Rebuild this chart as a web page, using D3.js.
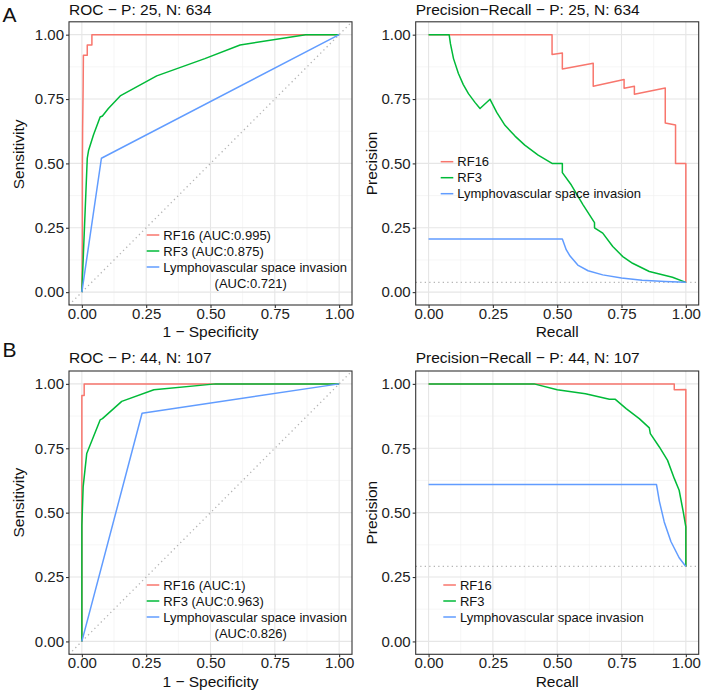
<!DOCTYPE html>
<html>
<head>
<meta charset="utf-8">
<script src="https://cdn.jsdelivr.net/npm/d3@7"></script>
<style>
body { margin: 0; background: #fff; }
text { font-family: "Liberation Sans", Arial, sans-serif; }
</style>
</head>
<body>
<div class="container"></div>
<script>
// ---- data ----
var seriesNames = ["RF16", "RF3", "Lymphovascular space invasion"];
var lineColors = ["#F8766D", "#00BA38", "#619CFF"];
var axisBreaks = [0, 0.25, 0.5, 0.75, 1];
var minorBreaks = [0.125, 0.375, 0.625, 0.875];

var posA = 25, negA = 634;
var posB = 44, negB = 107;
var aucA = ["0.995", "0.875", "0.721"];
var aucB = ["1", "0.963", "0.826"];

// ROC curves: [1 - specificity, sensitivity]
var rocA_rf16 = [[0,0],[0.002,0.2],[0.002,0.48],[0.003,0.64],[0.005,0.8],[0.006,0.92],[0.021,0.92],[0.021,0.96],[0.039,0.96],[0.039,1],[1,1]];
var rocA_rf3 = [[0,0],[0.021,0.52],[0.026,0.55],[0.045,0.61],[0.071,0.68],[0.08,0.684],[0.103,0.713],[0.149,0.762],[0.291,0.84],[0.478,0.907],[0.615,0.96],[0.87,1],[1,1]];
var rocA_lvsi = [[0,0],[0.076,0.52],[1,1]];

var rocB_rf16 = [[0,0],[0,0.955],[0.009,0.955],[0.009,1],[1,1]];
var rocB_rf3 = [[0,0],[0,0.45],[0.005,0.6],[0.019,0.73],[0.071,0.86],[0.08,0.865],[0.155,0.932],[0.28,0.977],[0.52,1],[1,1]];
var rocB_lvsi = [[0,0],[0.234,0.886],[1,1]];

// PR curves: [recall, precision]
var prA_rf16 = [[0,1],[0.48,1],[0.48,0.923],[0.52,0.929],[0.52,0.867],[0.64,0.889],[0.64,0.8],[0.76,0.826],[0.76,0.792],[0.8,0.8],[0.8,0.769],[0.92,0.793],[0.92,0.657],[0.96,0.649],[0.96,0.5],[1,0.5],[1,0.038]];
var prA_rf3 = [[0,1],[0.08,1],[0.085,0.965],[0.097,0.907],[0.116,0.849],[0.135,0.806],[0.155,0.771],[0.181,0.736],[0.2,0.713],[0.239,0.749],[0.265,0.698],[0.297,0.648],[0.336,0.606],[0.374,0.571],[0.426,0.532],[0.48,0.5],[0.52,0.5],[0.52,0.464],[0.555,0.416],[0.6,0.34],[0.645,0.27],[0.645,0.25],[0.677,0.229],[0.716,0.177],[0.755,0.138],[0.793,0.112],[0.858,0.08],[0.948,0.058],[1,0.038]];
var prA_lvsi = [[0,0.206],[0.52,0.206],[0.535,0.165],[0.55,0.14],[0.58,0.105],[0.62,0.083],[0.677,0.067],[0.75,0.055],[0.83,0.046],[0.92,0.041],[1,0.038]];

var prB_rf16 = [[0,1],[0.955,1],[0.955,0.977],[1,0.978],[1,0.291]];
var prB_rf3 = [[0,1],[0.41,1],[0.5,0.977],[0.61,0.962],[0.703,0.94],[0.726,0.94],[0.768,0.904],[0.819,0.865],[0.858,0.829],[0.862,0.807],[0.897,0.755],[0.929,0.703],[0.955,0.633],[0.974,0.587],[0.99,0.503],[1,0.445],[1,0.291]];
var prB_lvsi = [[0,0.609],[0.886,0.609],[0.897,0.545],[0.916,0.464],[0.942,0.388],[0.974,0.325],[1,0.291]];

// ---- drawing ----
var width = 709, height = 693;
var svg = d3.select(".container")
    .append("svg")
    .attr("width", width)
    .attr("height", height);

var fmt = d3.format(".2f");

function drawPanel(p)
{
    var x = d3.scaleLinear().domain([-0.05, 1.05]).range([p.left, p.left + p.w]);
    var y = d3.scaleLinear().domain([-0.05, 1.05]).range([p.top + p.h, p.top]);
    var g = svg.append("g");

    // grid
    g.selectAll(".minx").data(minorBreaks).enter().append("line")
        .attr("x1", d => x(d)).attr("x2", d => x(d))
        .attr("y1", p.top).attr("y2", p.top + p.h)
        .attr("stroke", "#f2f2f2").attr("stroke-width", 0.7);
    g.selectAll(".miny").data(minorBreaks).enter().append("line")
        .attr("y1", d => y(d)).attr("y2", d => y(d))
        .attr("x1", p.left).attr("x2", p.left + p.w)
        .attr("stroke", "#f2f2f2").attr("stroke-width", 0.7);
    g.selectAll(".majx").data(axisBreaks).enter().append("line")
        .attr("x1", d => x(d)).attr("x2", d => x(d))
        .attr("y1", p.top).attr("y2", p.top + p.h)
        .attr("stroke", "#e6e6e6").attr("stroke-width", 1.1);
    g.selectAll(".majy").data(axisBreaks).enter().append("line")
        .attr("y1", d => y(d)).attr("y2", d => y(d))
        .attr("x1", p.left).attr("x2", p.left + p.w)
        .attr("stroke", "#e6e6e6").attr("stroke-width", 1.1);

    // reference line
    var ref = p.refLevel === undefined
        ? [[-0.05, -0.05], [1.05, 1.05]]
        : [[-0.05, p.refLevel], [1.05, p.refLevel]];
    g.append("path")
        .attr("d", d3.line().x(d => x(d[0])).y(d => y(d[1]))(ref))
        .attr("fill", "none")
        .attr("stroke", "#b5b5b5")
        .attr("stroke-width", 1.3)
        .attr("stroke-dasharray", "1.3,3.2");

    // curves
    var line = d3.line().x(d => x(d[0])).y(d => y(d[1]));
    p.series.forEach(function(s, i)
    {
        g.append("path")
            .attr("d", line(s))
            .attr("fill", "none")
            .attr("stroke", lineColors[i])
            .attr("stroke-width", 1.5)
            .attr("stroke-linejoin", "round");
    });

    // border
    g.append("rect")
        .attr("x", p.left).attr("y", p.top)
        .attr("width", p.w).attr("height", p.h)
        .attr("fill", "none").attr("stroke", "#333").attr("stroke-width", 1.1);

    // axes
    var xAxis = d3.axisBottom(x).tickValues(axisBreaks).tickFormat(fmt).tickSize(3).tickPadding(0.5);
    var yAxis = d3.axisLeft(y).tickValues(axisBreaks).tickFormat(fmt).tickSize(3).tickPadding(2);
    var gx = g.append("g").attr("transform", "translate(0," + (p.top + p.h) + ")").call(xAxis);
    var gy = g.append("g").attr("transform", "translate(" + p.left + ",0)").call(yAxis);
    [gx, gy].forEach(function(a)
    {
        a.select(".domain").remove();
        a.selectAll("line").attr("stroke", "#333").attr("stroke-width", 1.1);
        a.selectAll("text").attr("font-size", 15).attr("fill", "#222")
            .attr("font-family", "Liberation Sans, Arial, sans-serif");
    });

    // titles
    g.append("text").attr("x", p.left).attr("y", p.titleY)
        .attr("font-size", 15.5).attr("fill", "#111").text(p.title);
    g.append("text").attr("x", p.left + p.w / 2).attr("y", p.top + p.h + 32.3)
        .attr("text-anchor", "middle").attr("font-size", 15.5).attr("fill", "#111").text(p.xTitle);
    g.append("text")
        .attr("transform", "translate(" + p.yTitleX + "," + (p.top + p.h / 2 + p.yTitleShift) + ") rotate(-90)")
        .attr("text-anchor", "middle").attr("font-size", 15.5).attr("fill", "#111").text(p.yTitle);

    if (p.tag)
    {
        g.append("text").attr("x", 2.5).attr("y", p.tagY)
            .attr("font-size", 21).attr("fill", "#111").text(p.tag);
    }

    // legend
    var lg = g.append("g");
    p.legend.forEach(function(item, i)
    {
        var ly = p.legendY + i * 16;
        lg.append("line")
            .attr("x1", p.legendX).attr("x2", p.legendX + 12.6)
            .attr("y1", ly).attr("y2", ly)
            .attr("stroke", lineColors[i]).attr("stroke-width", 1.5);
        lg.append("text")
            .attr("x", p.legendX + 16.6).attr("y", ly)
            .attr("dy", "0.35em").attr("font-size", 13).attr("fill", "#111")
            .text(item[0]);
        if (item[1])
        {
            lg.append("text")
                .attr("x", p.legendX + 104).attr("y", ly + 16)
                .attr("dy", "0.35em").attr("text-anchor", "middle")
                .attr("font-size", 13).attr("fill", "#111")
                .text(item[1]);
        }
    });
}

function rocLegend(auc)
{
    return [
        [seriesNames[0] + " (AUC:" + auc[0] + ")"],
        [seriesNames[1] + " (AUC:" + auc[1] + ")"],
        [seriesNames[2], "(AUC:" + auc[2] + ")"]
    ];
}
function prLegend()
{
    return seriesNames.map(function(n) { return [n]; });
}

drawPanel({
    left: 69, top: 21.8, w: 283, h: 283.2, titleY: 14.5,
    title: "ROC \u2212 P: " + posA + ", N: " + negA,
    xTitle: "1 \u2212 Specificity", yTitle: "Sensitivity",
    yTitleX: 24, yTitleShift: -9, tag: "A", tagY: 21.5,
    series: [rocA_rf16, rocA_rf3, rocA_lvsi],
    legend: rocLegend(aucA), legendX: 146.7, legendY: 235
});
drawPanel({
    left: 415.7, top: 21.8, w: 283, h: 283.2, titleY: 14.5,
    title: "Precision\u2212Recall \u2212 P: " + posA + ", N: " + negA,
    xTitle: "Recall", yTitle: "Precision",
    yTitleX: 376.5, yTitleShift: 0,
    refLevel: posA / (posA + negA),
    series: [prA_rf16, prA_rf3, prA_lvsi],
    legend: prLegend(), legendX: 440.7, legendY: 161.7
});
drawPanel({
    left: 69, top: 371, w: 283, h: 283.3, titleY: 363,
    title: "ROC \u2212 P: " + posB + ", N: " + negB,
    xTitle: "1 \u2212 Specificity", yTitle: "Sensitivity",
    yTitleX: 24, yTitleShift: -10, tag: "B", tagY: 356.7,
    series: [rocB_rf16, rocB_rf3, rocB_lvsi],
    legend: rocLegend(aucB), legendX: 146.7, legendY: 585
});
drawPanel({
    left: 415.7, top: 371, w: 283, h: 283.3, titleY: 363,
    title: "Precision\u2212Recall \u2212 P: " + posB + ", N: " + negB,
    xTitle: "Recall", yTitle: "Precision",
    yTitleX: 376.5, yTitleShift: 0,
    refLevel: posB / (posB + negB),
    series: [prB_rf16, prB_rf3, prB_lvsi],
    legend: prLegend(), legendX: 443.3, legendY: 585
});
</script>
</body>
</html>
